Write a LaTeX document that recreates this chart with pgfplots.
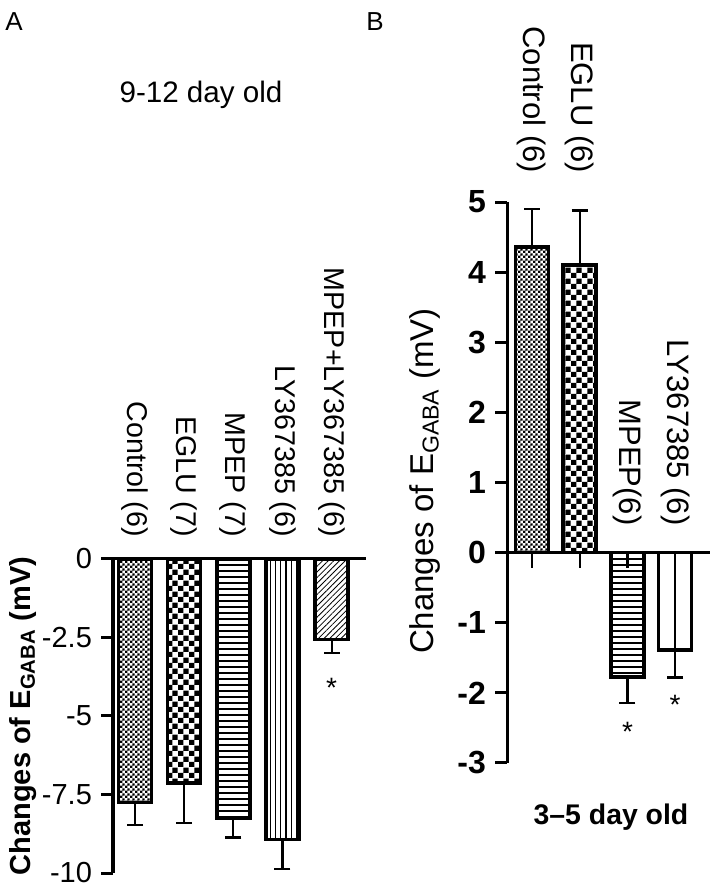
\documentclass[border=0pt]{standalone}
\usepackage{fontspec}
\setmainfont{Liberation Sans}
\usepackage{pgfplots}
\pgfplotsset{compat=1.18}
\usetikzlibrary{patterns,patterns.meta}

\pgfdeclarepatternformonly{finecheck}{\pgfpointorigin}{\pgfpoint{2.4pt}{2.4pt}}{\pgfpoint{2.4pt}{2.4pt}}{%
  \pgfpathrectangle{\pgfpointorigin}{\pgfpoint{1.2pt}{1.2pt}}%
  \pgfpathrectangle{\pgfpoint{1.2pt}{1.2pt}}{\pgfpoint{1.2pt}{1.2pt}}%
  \pgfusepath{fill}}
\pgfdeclarepatternformonly{coarsecheck}{\pgfpointorigin}{\pgfpoint{5.6pt}{5.6pt}}{\pgfpoint{5.6pt}{5.6pt}}{%
  \pgfpathrectangle{\pgfpointorigin}{\pgfpoint{2.8pt}{2.8pt}}%
  \pgfpathrectangle{\pgfpoint{2.8pt}{2.8pt}}{\pgfpoint{2.8pt}{2.8pt}}%
  \pgfusepath{fill}}

\pgfplotsset{
  mybar/.style={ybar, bar width=16.5pt, bar shift=0pt, draw=black, line width=1.8pt, pattern color=black,
    error bars/y explicit, error bars/error bar style={line width=1.1pt},
    error bars/error mark options={rotate=90, mark size=4pt, line width=1.1pt, black}},
  common/.style={scale only axis, clip=false, axis y line=left,
    xtick=\empty, tick align=outside, major tick length=6pt, tick style={line width=1.5pt, black},
    yticklabel style={xshift=-1pt}},
  noarrows/.style={axis line style={-, line width=1.5pt},
    every outer x axis line/.append style={-}, every inner x axis line/.append style={-},
    every outer y axis line/.append style={-}, every inner y axis line/.append style={-}}
}

\begin{document}
\begin{tikzpicture}
\path[use as bounding box] (0pt,0pt) rectangle (356pt,444.5pt);
\node[font=\fontsize{13}{13}\selectfont] at (7pt,433.5pt) {A};
\node[font=\fontsize{13}{13}\selectfont] at (187.5pt,433.5pt) {B};
\node[font=\fontsize{14.8}{15}\selectfont] at (100.5pt,397pt) {9-12 day old};
\node[font=\fontsize{14.2}{15}\selectfont\bfseries] at (305.5pt,36pt) {3--5 day old};
\node[rotate=90, font=\fontsize{14.5}{15}\selectfont\bfseries] at (11.5pt,86.5pt) {Changes of E\textsubscript{GABA} (mV)};
\node[rotate=90, font=\fontsize{16.5}{17}\selectfont] at (212.5pt,204pt) {Changes of E\textsubscript{GABA} (mV)};

% Panel A
\begin{axis}[common, at={(56.5pt,8pt)}, anchor=south west, width=126.5pt, height=157pt,
  axis x line=top, noarrows, xmin=-0.448, xmax=4.70, ymin=-10, ymax=0,
  ytick={-10,-7.5,-5,-2.5,0}, yticklabels={-10,-7.5,-5,-2.5,0},
  yticklabel style={font=\fontsize{14.5}{15}\selectfont}]
\addplot[mybar, pattern=finecheck, error bars/y dir=minus] coordinates {(0,-7.75) -= (0,0.72)};
\addplot[mybar, pattern=coarsecheck, error bars/y dir=minus] coordinates {(1,-7.14) -= (0,1.27)};
\addplot[mybar, pattern={Lines[angle=0,distance=3pt,line width=0.7pt]}, error bars/y dir=minus] coordinates {(2,-8.27) -= (0,0.6)};
\addplot[mybar, pattern={Lines[angle=90,distance=2.6pt,line width=0.6pt]}, error bars/y dir=minus] coordinates {(3,-8.93) -= (0,0.93)};
\addplot[mybar, pattern={Lines[angle=45,distance=2pt,line width=0.4pt]}, error bars/y dir=minus] coordinates {(4,-2.57) -= (0,0.42)};
\begin{scope}[every node/.style={rotate=-90, anchor=east, font=\fontsize{14.3}{15}\selectfont}]
\node at ([yshift=7.5pt]axis cs:0,0) {Control (6)};
\node at ([yshift=7.5pt]axis cs:1,0) {EGLU (7)};
\node at ([yshift=7.5pt]axis cs:2,0) {MPEP (7)};
\node at ([yshift=7.5pt]axis cs:3,0) {LY367385 (6)};
\node at ([yshift=7.5pt]axis cs:4,0) {MPEP+LY367385 (6)};
\end{scope}
\node[font=\fontsize{14}{14}\selectfont] at (axis cs:4,-4.1) {*};
\end{axis}

% Panel B
\begin{axis}[common, at={(253.5pt,63pt)}, anchor=south west, width=101.5pt, height=280.5pt,
  axis x line=middle, noarrows, xmin=-0.524, xmax=3.73, ymin=-3, ymax=5,
  ytick={-3,-2,-1,0,1,2,3,4,5}, yticklabels={-3,-2,-1,0,1,2,3,4,5},
  yticklabel style={font=\fontsize{16}{16}\selectfont\bfseries}]
\addplot[ycomb, black, line width=1.1pt, no marks] coordinates {(0,-0.22) (1,-0.22) (2,-0.22) (3,-1.38)};
\addplot[mybar, pattern=finecheck, error bars/y dir=plus] coordinates {(0,4.36) += (0,0.54)};
\addplot[mybar, pattern=coarsecheck, error bars/y dir=plus] coordinates {(1,4.1) += (0,0.78)};
\addplot[mybar, pattern={Lines[angle=0,distance=3pt,line width=0.7pt]}, error bars/y dir=minus] coordinates {(2,-1.77) -= (0,0.37)};
\addplot[mybar, fill=none, error bars/y dir=minus] coordinates {(3,-1.39) -= (0,0.39)};
\begin{scope}[every node/.style={rotate=-90, anchor=east, font=\fontsize{15.5}{16}\selectfont}]
\node at ([yshift=11pt]axis cs:0,5) {Control (6)};
\node at ([yshift=11pt]axis cs:1,5) {EGLU (6)};
\node at ([yshift=10pt]axis cs:2,0) {MPEP(6)};
\node at ([yshift=10pt]axis cs:3,0) {LY367385 (6)};
\end{scope}
\node[font=\fontsize{14}{14}\selectfont] at (axis cs:2,-2.55) {*};
\node[font=\fontsize{14}{14}\selectfont] at (axis cs:3,-2.17) {*};
\end{axis}
\end{tikzpicture}
\end{document}
